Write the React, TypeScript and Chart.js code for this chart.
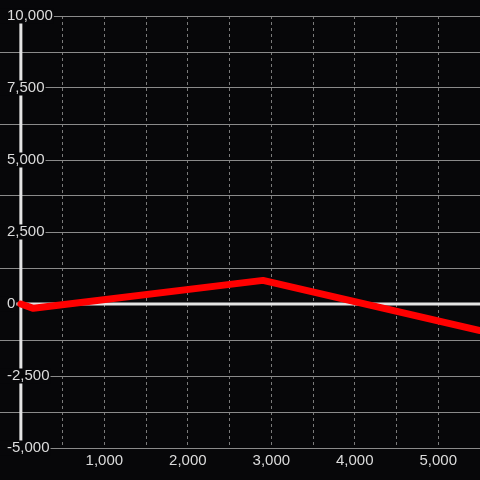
import React, { useEffect, useRef } from 'react';
import { Chart, registerables } from 'chart.js';

Chart.register(...registerables);

// Series (x, y) points
const seriesX = [0, 150, 2900, 5500];
const seriesY = [0, -150, 820, -920];

// Axis ranges and tick steps
const xMin = -250;
const xMax = 5500;
const xGridStep = 500;
const xLabelStep = 1000;
const yMin = -5000;
const yMax = 10000;
const yGridStep = 1250;
const yLabelStep = 2500;

const BG = '#070709';
const GRID = '#8a8a8a';
const DASH_GRID = '#7a7a7a';
const ZERO = '#e4e4e4';
const TEXT = '#dcdcdc';
const LINE = '#ff0000';
const FONT = "Arial, 'Liberation Sans', sans-serif";

const fmt = (v: number) => v.toLocaleString('en-US');

// tick values strictly inside (min, max) on multiples of step
const stepTicks = (min: number, max: number, step: number) => {
  const out: { value: number }[] = [];
  for (let v = Math.ceil(min / step) * step; v <= max; v += step) {
    if (v > min && v < max) out.push({ value: v });
  }
  return out;
};

const zeroLines = {
  id: 'zeroLines',
  beforeDatasetsDraw(chart: any) {
    const { ctx, chartArea, scales } = chart;
    const x0 = scales.x.getPixelForValue(0);
    const y0 = scales.y.getPixelForValue(0);
    ctx.save();
    ctx.strokeStyle = ZERO;
    ctx.lineWidth = 3;
    ctx.beginPath();
    ctx.moveTo(x0, chartArea.top);
    ctx.lineTo(x0, chartArea.bottom);
    ctx.moveTo(chartArea.left, y0);
    ctx.lineTo(chartArea.right, y0);
    ctx.stroke();
    ctx.restore();
  },
};

export default function App() {
  const ref = useRef<HTMLCanvasElement | null>(null);

  useEffect(() => {
    if (!ref.current) return;
    const data = seriesX.map((x, i) => ({ x, y: seriesY[i] }));
    const chart = new Chart(ref.current, {
      type: 'line',
      data: {
        datasets: [
          {
            data,
            borderColor: LINE,
            backgroundColor: LINE,
            borderWidth: 7,
            borderCapStyle: 'round',
            borderJoinStyle: 'round',
            pointRadius: 0,
            tension: 0,
          },
        ],
      },
      options: {
        animation: false,
        responsive: false,
        maintainAspectRatio: false,
        layout: { padding: { top: 16, bottom: 7, left: 0, right: 0 } },
        plugins: { legend: { display: false }, tooltip: { enabled: false } },
        scales: {
          x: {
            type: 'linear',
            min: xMin,
            max: xMax,
            bounds: 'data',
            border: { display: false, dash: [3, 3] },
            grid: {
              drawTicks: false,
              lineWidth: 1,
              color: (ctx: any) => (ctx.tick && ctx.tick.value === 0 ? 'rgba(0,0,0,0)' : DASH_GRID),
            },
            afterBuildTicks: (scale: any) => {
              scale.ticks = stepTicks(xMin, xMax, xGridStep);
            },
            ticks: {
              autoSkip: false,
              maxRotation: 0,
              padding: 5,
              color: TEXT,
              font: { family: FONT, size: 15, lineHeight: 1 },
              callback: (v: any) => {
                const n = Number(v);
                return n !== 0 && n % xLabelStep === 0 ? fmt(n) : '';
              },
            },
          },
          y: {
            type: 'linear',
            min: yMin,
            max: yMax,
            bounds: 'data',
            border: { display: false },
            afterBuildTicks: (scale: any) => {
              scale.ticks = [{ value: yMin }, ...stepTicks(yMin, yMax, yGridStep), { value: yMax }];
            },
            afterFit: (scale: any) => {
              scale.width = 0;
            },
            grid: {
              drawTicks: false,
              lineWidth: 1,
              color: (ctx: any) => (ctx.tick && ctx.tick.value === 0 ? 'rgba(0,0,0,0)' : GRID),
            },
            ticks: {
              autoSkip: false,
              mirror: true,
              padding: 7,
              z: 1,
              color: TEXT,
              font: { family: FONT, size: 15, lineHeight: 1 },
              showLabelBackdrop: true,
              backdropPadding: { left: 7, right: 1, top: 0, bottom: 0 },
              backdropColor: (ctx: any) =>
                ctx.tick && ctx.tick.value % yLabelStep === 0 ? BG : 'rgba(0,0,0,0)',
              callback: (v: any) => {
                const n = Number(v);
                return n % yLabelStep === 0 ? fmt(n) : '';
              },
            },
          },
        },
      } as any,
      plugins: [zeroLines],
    });
    return () => chart.destroy();
  }, []);

  return (
    <div
      style={{
        position: 'fixed',
        left: 0,
        top: 0,
        width: 480,
        height: 480,
        background: BG,
      }}
    >
      <canvas ref={ref} width={480} height={480} style={{ display: 'block' }} />
    </div>
  );
}
